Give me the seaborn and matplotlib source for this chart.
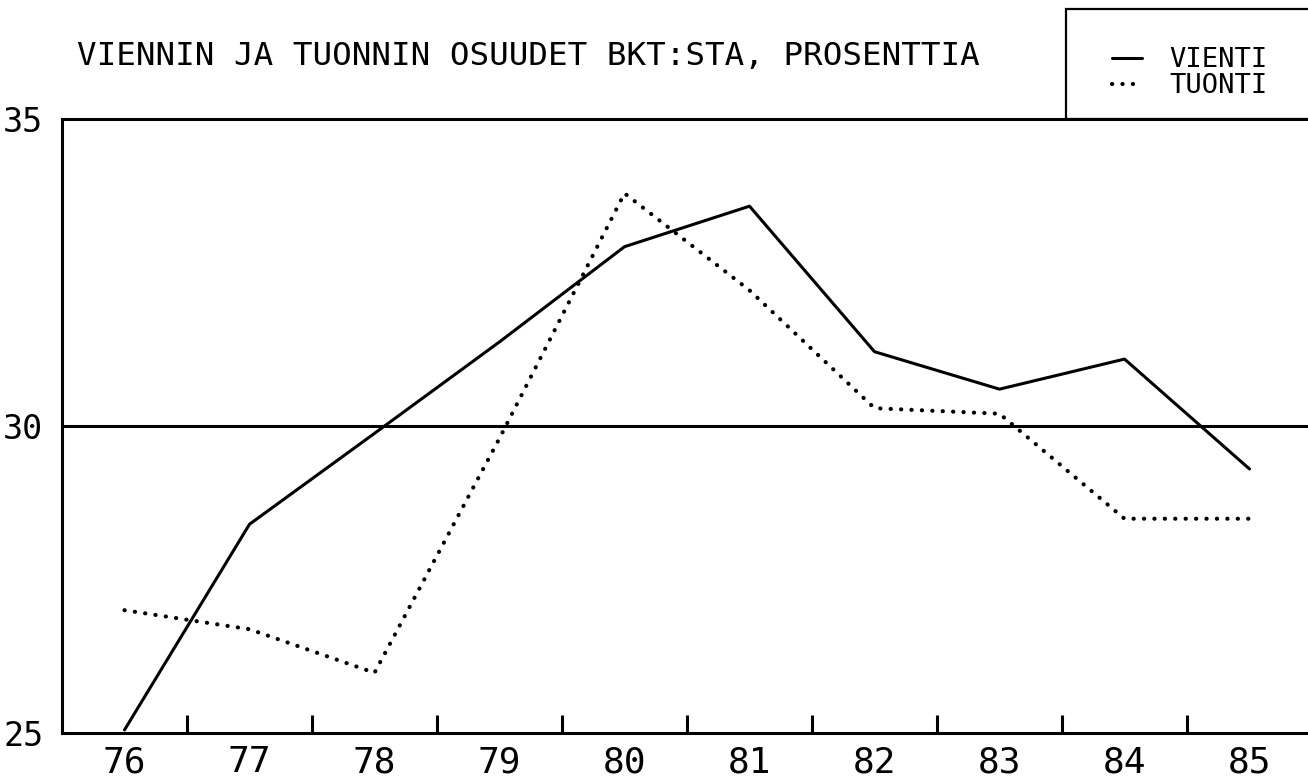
import pandas as pd
import seaborn as sns
import matplotlib.pyplot as plt
from matplotlib.patches import Rectangle

# --- Data ---
years = [76, 77, 78, 79, 80, 81, 82, 83, 84, 85]
vienti = [25.05, 28.40, 29.88, 31.37, 32.92, 33.58, 31.21, 30.60, 31.09, 29.30]
tuonti = [27.00, 26.69, 25.98, 29.80, 33.79, 32.21, 30.29, 30.20, 28.49, 28.49]
series_names = ['VIENTI', 'TUONTI']
y_ticks = [25, 30, 35]
title = 'VIENNIN JA TUONNIN OSUUDET BKT:STA, PROSENTTIA'
OUT_PATH = 'out.png'
# --- End Data ---

sns.set_theme(style='white')
plt.rcParams['font.family'] = ['DejaVu Sans Mono', 'DejaVu Sans']
plt.rcParams['text.color'] = 'black'
plt.rcParams['xtick.color'] = 'black'
plt.rcParams['ytick.color'] = 'black'

df = pd.DataFrame({
    'year': years * 2,
    'value': vienti + tuonti,
    'series': [series_names[0]] * len(years) + [series_names[1]] * len(years),
})

W, H = 1308, 782
fig = plt.figure(figsize=(W / 100, H / 100), dpi=100)
ax = fig.add_axes([62 / W, (H - 733) / H, 1250 / W, 614 / H])

lw = 2.2
sns.lineplot(data=df[df['series'] == 'VIENTI'], x='year', y='value', ax=ax,
             color='black', linewidth=lw, label='VIENTI')
sns.lineplot(data=df[df['series'] == 'TUONTI'], x='year', y='value', ax=ax,
             color='black', linewidth=3.0, label='TUONTI',
             linestyle=(0, (0.05, 2.45)), dash_capstyle='round')
ax.axhline(30, color='black', linewidth=lw, zorder=1)

# axes look
ax.set_xlim(75.5, 85.5)
ax.set_ylim(25, 35)
ax.set_xlabel('')
ax.set_ylabel('')
for side in ['left', 'bottom', 'top']:
    ax.spines[side].set_visible(True)
    ax.spines[side].set_color('black')
    ax.spines[side].set_linewidth(lw)
ax.spines['right'].set_visible(False)

ax.set_xticks(years)
ax.set_xticklabels([str(y) for y in years])
ax.set_xticks([y + 0.5 for y in years[:-1]], minor=True)
ax.tick_params(axis='x', which='major', length=0, pad=9, labelsize=26)
ax.tick_params(axis='x', which='minor', direction='in', length=13,
               width=lw, color='black', bottom=True)
ax.set_yticks(y_ticks)
ax.tick_params(axis='y', length=0, pad=13.5, labelsize=24)

# title
fig.text(77 / W, 1 - 65 / H, title, ha='left', va='baseline', fontsize=23.4)

# legend box
fig.patches.append(Rectangle((1066 / W, 1 - 119 / H), 260 / W, 110 / H,
                             transform=fig.transFigure, fill=False,
                             edgecolor='black', linewidth=1.6))
handles, labels = ax.get_legend_handles_labels()
ax.legend(handles, labels, loc='center', bbox_to_anchor=(1190 / W, 1 - 73 / H),
          bbox_transform=fig.transFigure, frameon=False, fontsize=19.5,
          handlelength=1.1, handletextpad=1.0, labelspacing=0.0,
          borderpad=0.0)

fig.savefig(OUT_PATH, dpi=100)
